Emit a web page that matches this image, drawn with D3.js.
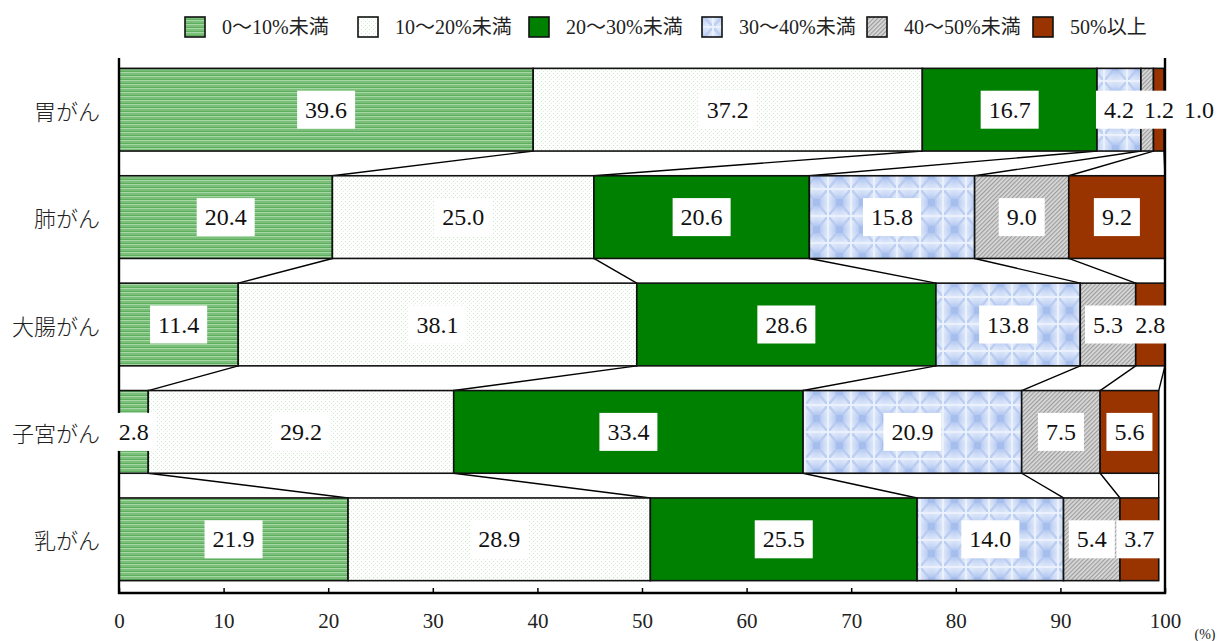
<!DOCTYPE html>
<html>
<head>
<meta charset="utf-8">
<script src="https://cdn.jsdelivr.net/npm/d3@7"></script>
<style>
  html, body { margin: 0; padding: 0; background: #fff; }
  .num { font-family: "Liberation Serif", "Times New Roman", "DejaVu Serif", serif; }
  .mix { font-family: "Liberation Serif", "Times New Roman", "DejaVu Serif", "Noto Sans CJK JP", serif; }
  .jp { font-family: "Noto Sans CJK JP", sans-serif; }
</style>
</head>
<body>
<svg id="chart" width="1220" height="641"></svg>
<script>
// Cancer sites (rows) and the share in each bracket (percent)
const categories = ["胃がん", "肺がん", "大腸がん", "子宮がん", "乳がん"];
const seriesNames = ["0〜10%未満", "10〜20%未満", "20〜30%未満", "30〜40%未満", "40〜50%未満", "50%以上"];
const band0to10  = [39.6, 20.4, 11.4,  2.8, 21.9];
const band10to20 = [37.2, 25.0, 38.1, 29.2, 28.9];
const band20to30 = [16.7, 20.6, 28.6, 33.4, 25.5];
const band30to40 = [ 4.2, 15.8, 13.8, 20.9, 14.0];
const band40to50 = [ 1.2,  9.0,  5.3,  7.5,  5.4];
const band50plus = [ 1.0,  9.2,  2.8,  5.6,  3.7];
const xTicks = [0, 10, 20, 30, 40, 50, 60, 70, 80, 90, 100];

const seriesValues = [band0to10, band10to20, band20to30, band30to40, band40to50, band50plus];

const svg = d3.select("#chart");
const defs = svg.append("defs");

// ---- fill patterns ----
// 0-10%: green horizontal stripes
const p0 = defs.append("pattern").attr("id", "pat0").attr("patternUnits", "userSpaceOnUse")
  .attr("width", 8).attr("height", 4);
p0.append("rect").attr("width", 8).attr("height", 4).attr("fill", "#5fae5f");
p0.append("rect").attr("y", 0).attr("width", 8).attr("height", 1.4).attr("fill", "#a6d8a6");
p0.append("rect").attr("y", 2).attr("width", 8).attr("height", 0.8).attr("fill", "#80c480");

// 10-20%: white with faint green dots
const p1 = defs.append("pattern").attr("id", "pat1").attr("patternUnits", "userSpaceOnUse")
  .attr("width", 4).attr("height", 4);
p1.append("rect").attr("width", 4).attr("height", 4).attr("fill", "#ffffff");
p1.append("rect").attr("x", 1).attr("y", 1).attr("width", 1).attr("height", 1).attr("fill", "#c6e4c6");
p1.append("rect").attr("x", 3).attr("y", 3).attr("width", 1).attr("height", 1).attr("fill", "#dcefdc");

// 30-40%: pale blue tiles with soft diagonal crosses
const rg = defs.append("radialGradient").attr("id", "tileGlow");
rg.append("stop").attr("offset", "0%").attr("stop-color", "#9fb9ec");
rg.append("stop").attr("offset", "60%").attr("stop-color", "#c9d8f5");
rg.append("stop").attr("offset", "100%").attr("stop-color", "#dde7f9");
const p3 = defs.append("pattern").attr("id", "pat3").attr("patternUnits", "userSpaceOnUse")
  .attr("width", 23).attr("height", 27);
p3.append("rect").attr("width", 23).attr("height", 27).attr("fill", "url(#tileGlow)");
p3.append("path").attr("d", "M0,0L23,27M23,0L0,27")
  .attr("stroke", "#b4c8f0").attr("stroke-width", 2.5).attr("opacity", 0.8);
p3.append("rect").attr("x", 8).attr("y", 10).attr("width", 7).attr("height", 7).attr("fill", "#a2bbec").attr("opacity", 0.7);
p3.append("rect").attr("width", 23).attr("height", 27).attr("fill", "none")
  .attr("stroke", "#eaf0fc").attr("stroke-width", 2);

// 40-50%: grey fine diagonal hatch
const p4 = defs.append("pattern").attr("id", "pat4").attr("patternUnits", "userSpaceOnUse")
  .attr("width", 3).attr("height", 3).attr("patternTransform", "rotate(45)");
p4.append("rect").attr("width", 3).attr("height", 3).attr("fill", "#dadada");
p4.append("rect").attr("width", 1.2).attr("height", 3).attr("fill", "#9c9c9c");

const fills = ["url(#pat0)", "url(#pat1)", "#008000", "url(#pat3)", "url(#pat4)", "#993300"];

// ---- scales ----
const x = d3.scaleLinear().domain([0, 100]).range([119, 1165]);
const y = d3.scaleBand().domain(categories).range([56, 593]).paddingInner(0.23).paddingOuter(0.115);

// stacked layout
const rows = categories.map((c, i) => {
  let acc = 0;
  const segs = seriesValues.map((s, k) => {
    const seg = { cat: c, k, v: s[i], x0: acc, x1: acc + s[i] };
    acc += s[i];
    return seg;
  });
  return { cat: c, segs };
});

// ---- connector lines between consecutive bars ----
const conn = svg.append("g");
for (let i = 0; i < rows.length - 1; i++) {
  const a = rows[i], b = rows[i + 1];
  for (let k = 0; k < 6; k++) {
    conn.append("line")
      .attr("x1", x(a.segs[k].x1)).attr("y1", y(a.cat) + y.bandwidth())
      .attr("x2", x(b.segs[k].x1)).attr("y2", y(b.cat))
      .attr("stroke", "#000").attr("stroke-width", 1.4);
  }
}

// ---- bars ----
const barG = svg.append("g");
rows.forEach(r => {
  barG.selectAll(null).data(r.segs).enter().append("rect")
    .attr("x", d => x(d.x0)).attr("y", y(r.cat))
    .attr("width", d => x(d.x1) - x(d.x0)).attr("height", y.bandwidth())
    .attr("fill", d => fills[d.k])
    .attr("stroke", "#111").attr("stroke-width", 1.6);
});

// ---- axes frame ----
const frame = svg.append("g").attr("stroke", "#000").attr("fill", "none");
frame.append("path").attr("stroke-width", 2.4)
  .attr("d", `M${x(0)},58V593H${x(100)}V58`);

const xAxis = d3.axisBottom(x).tickValues(xTicks).tickSize(-5).tickPadding(20).tickFormat(d3.format("d"));
const ax = svg.append("g").attr("transform", "translate(0,593)").call(xAxis);
ax.attr("font-family", null).attr("font-size", null);
ax.select(".domain").remove();
ax.selectAll(".tick line").attr("stroke", "#000").attr("stroke-width", 1.5);
ax.selectAll(".tick text").attr("class", "num").attr("font-size", 21).attr("fill", "#222").attr("dy", "0.71em");

svg.append("text").attr("class", "num").attr("x", 1205).attr("y", 639).attr("text-anchor", "middle")
  .attr("font-size", 14).attr("fill", "#222").text("(%)");

// ---- category labels ----
svg.append("g").selectAll("text").data(categories).enter().append("text")
  .attr("class", "jp")
  .attr("x", 100).attr("y", d => y(d) + y.bandwidth() / 2)
  .attr("text-anchor", "end").attr("dominant-baseline", "central")
  .attr("font-size", 22).attr("font-weight", 300).attr("fill", "#222").text(d => d);

// ---- value labels with white boxes ----
const labG = svg.append("g");
const boxG = labG.append("g");
const txtG = labG.append("g");
const pad = 8, gap = 10, fs = 24;
rows.forEach(r => {
  const cy = y(r.cat) + y.bandwidth() / 2;
  let prevRight = -Infinity;
  r.segs.forEach(d => {
    const t = txtG.append("text").attr("class", "num")
      .attr("y", cy).attr("text-anchor", "middle").attr("dominant-baseline", "central")
      .attr("font-size", fs).attr("fill", "#111")
      .text(d.v.toFixed(1));
    const w = t.node().getComputedTextLength();
    let cx = x((d.x0 + d.x1) / 2);
    if (cx - w / 2 < prevRight + gap) cx = prevRight + gap + w / 2;
    prevRight = cx + w / 2;
    t.attr("x", cx);
    boxG.append("rect")
      .attr("x", cx - w / 2 - pad).attr("y", cy - 19)
      .attr("width", w + 2 * pad).attr("height", 38)
      .attr("fill", "#fff");
  });
});

// ---- legend ----
const legX = [185, 358, 529, 702, 867, 1033];
const leg = svg.append("g");
seriesNames.forEach((name, k) => {
  leg.append("rect").attr("x", legX[k]).attr("y", 17).attr("width", 20).attr("height", 20)
    .attr("fill", fills[k]).attr("stroke", "#111").attr("stroke-width", 1.6);
  leg.append("text").attr("class", "mix").attr("x", legX[k] + 37).attr("y", 27)
    .attr("dominant-baseline", "central").attr("font-size", 20).attr("fill", "#222")
    .text(name);
});
</script>
</body>
</html>
